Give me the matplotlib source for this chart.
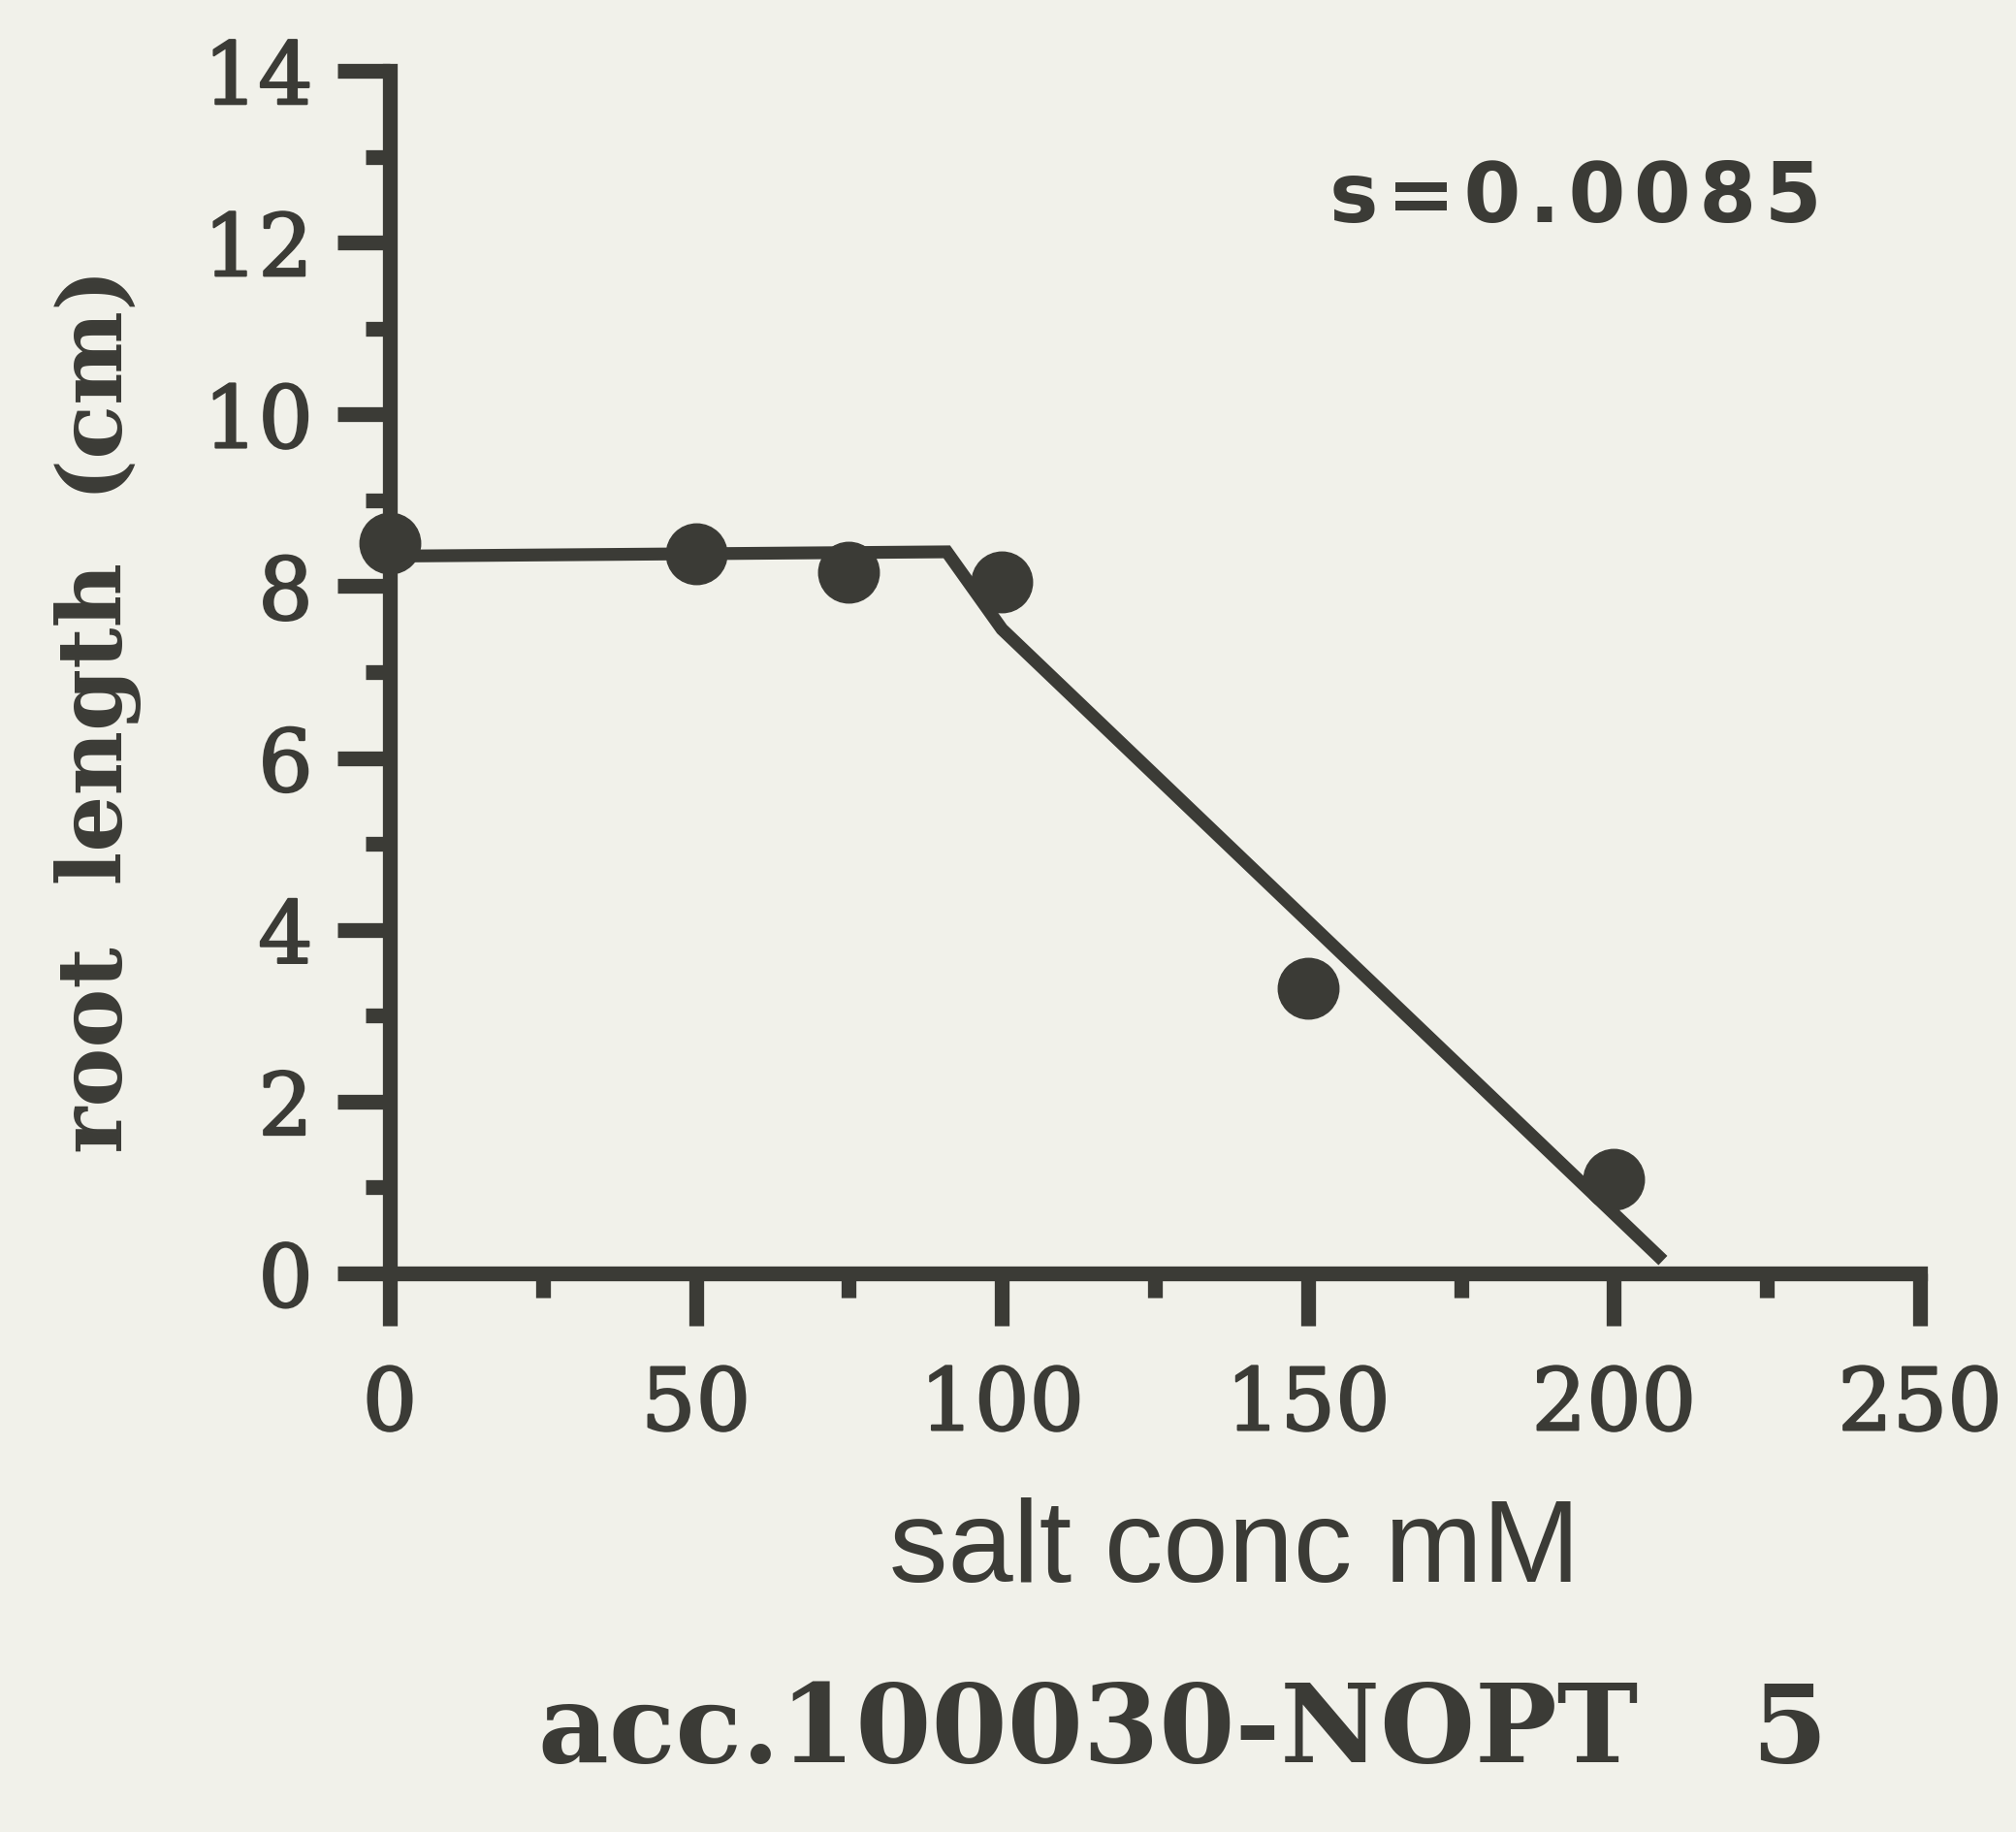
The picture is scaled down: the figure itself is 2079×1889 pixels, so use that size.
import matplotlib
matplotlib.use("Agg")
import matplotlib.pyplot as plt
import matplotlib.patheffects as pe
from matplotlib.ticker import MultipleLocator

# root length vs salt concentration
salt = [0, 50, 75, 100, 150, 200]
root_len = [8.50, 8.38, 8.16, 8.05, 3.32, 1.10]

# fitted broken-line model
fit_x = [0, 91, 100, 208]
fit_y = [8.35, 8.40, 7.50, 0.15]

x_ticks = [0, 50, 100, 150, 200, 250]
y_ticks = [0, 2, 4, 6, 8, 10, 12, 14]

ink = '#3b3b36'
paper = '#f1f1ea'
heavy = [pe.withStroke(linewidth=1.6, foreground=ink)]

fig = plt.figure(figsize=(20.79, 18.89), dpi=100, facecolor=paper)
ax = fig.add_axes([402/2079, 1-1313/1889, (1980-402)/2079, (1313-73)/1889])
ax.set_facecolor(paper)

ax.plot(fit_x, fit_y, color=ink, lw=9.5, solid_capstyle='butt',
        solid_joinstyle='miter', clip_on=False, zorder=3)
ax.plot(salt, root_len, 'o', color=ink, ms=45, clip_on=False, zorder=4)

ax.set_xlim(0, 250)
ax.set_ylim(0, 14)
ax.spines['top'].set_visible(False)
ax.spines['right'].set_visible(False)
for s in ['left', 'bottom']:
    ax.spines[s].set_linewidth(11)
    ax.spines[s].set_color(ink)
    ax.spines[s].set_capstyle('projecting')

ax.set_xticks(x_ticks)
ax.set_yticks(y_ticks)
ax.xaxis.set_minor_locator(MultipleLocator(25))
ax.yaxis.set_minor_locator(MultipleLocator(1))
ax.tick_params(which='major', length=39, width=11, color=ink, direction='out')
ax.tick_params(which='minor', length=18, width=11, color=ink, direction='out')
ax.tick_params(axis='x', which='major', pad=28)
ax.tick_params(axis='y', which='major', pad=18)
for lab in ax.get_xticklabels() + ax.get_yticklabels():
    lab.set_family('DejaVu Serif')
    lab.set_fontsize(64)
    lab.set_color(ink)
    lab.set_path_effects(heavy)

fig.text(0.0485, 0.612, 'root  length  (cm)', rotation=90,
         ha='center', va='center', family='DejaVu Serif', weight='bold',
         fontsize=66, color=ink)
fig.text(0.6125, 0.1366, 'salt conc mM', ha='center', va='baseline',
         family='Liberation Sans', fontsize=87, color=ink)
fig.text(0.587, 0.0381, 'acc.100030-NOPT   5', ha='center', va='baseline',
         family='DejaVu Serif', weight='bold', fontsize=81, color=ink)
fig.text(0.7815, 0.879, '\u200a'.join('s=0.0085'), ha='center', va='baseline',
         family='DejaVu Sans', weight='bold', fontsize=61, color=ink)

fig.savefig('out.png', dpi=100, facecolor=paper)
